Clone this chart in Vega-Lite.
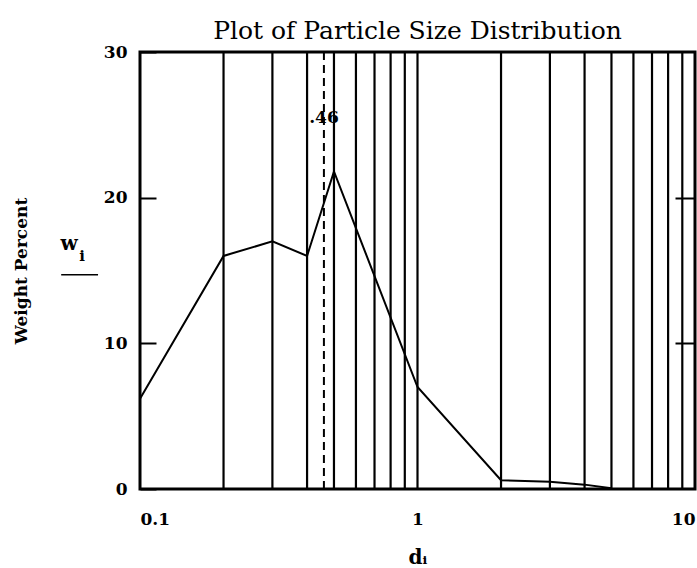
{
  "$schema": "https://vega.github.io/schema/vega-lite/v6.json",
  "width": 555,
  "height": 437,
  "autosize": {"type": "none"},
  "padding": {"left": 140, "top": 52, "right": 2, "bottom": 79},
  "background": "white",
  "config": {
    "view": {"stroke": "black", "strokeWidth": 3},
    "font": "DejaVu Serif",
    "axis": {"labelColor": "black", "titleColor": "black", "tickColor": "black", "domain": false, "grid": false}
  },
  "title": {"text": "Plot of Particle Size Distribution", "font": "DejaVu Serif", "fontSize": 25, "fontWeight": "normal", "color": "black", "anchor": "middle", "frame": "group", "offset": -1},
  "datasets": {
    "grid": [
      {"d": 0.2}, {"d": 0.3}, {"d": 0.4}, {"d": 0.5}, {"d": 0.6}, {"d": 0.7}, {"d": 0.8}, {"d": 0.9},
      {"d": 1}, {"d": 2}, {"d": 3}, {"d": 4}, {"d": 5}, {"d": 6}, {"d": 7}, {"d": 8}, {"d": 9}
    ],
    "marker": [{"d": 0.46, "label": ".46"}],
    "series": [
      {"d": 0.1, "w": 6.2},
      {"d": 0.2, "w": 16.0},
      {"d": 0.3, "w": 17.0},
      {"d": 0.4, "w": 16.0},
      {"d": 0.5, "w": 21.8},
      {"d": 1, "w": 7.0},
      {"d": 2, "w": 0.6},
      {"d": 3, "w": 0.5},
      {"d": 4, "w": 0.3},
      {"d": 5, "w": 0.05}
    ]
  },
  "resolve": {"axis": {"x": "independent", "y": "independent"}},
  "layer": [
    {
      "data": {"name": "grid"},
      "mark": {"type": "rule", "color": "black", "strokeWidth": 2.2},
      "encoding": {
        "x": {
          "field": "d", "type": "quantitative",
          "scale": {"type": "log", "domain": [0.1, 10], "nice": false},
          "axis": {
            "values": [0.1, 1, 10], "format": "~g", "ticks": false, "labelFlush": true,
            "labelFont": "DejaVu Serif", "labelFontWeight": "bold", "labelFontSize": 17, "labelPadding": 22,
            "title": "dᵢ", "titleFont": "DejaVu Serif", "titleFontWeight": "bold", "titleFontSize": 20, "titlePadding": 20
          }
        }
      }
    },
    {
      "data": {"name": "marker"},
      "mark": {"type": "rule", "color": "black", "strokeWidth": 2, "strokeDash": [8, 5]},
      "encoding": {
        "x": {"field": "d", "type": "quantitative", "axis": null}
      }
    },
    {
      "data": {"name": "marker"},
      "mark": {"type": "text", "color": "black", "font": "DejaVu Serif", "fontSize": 17, "fontWeight": 600, "align": "center", "baseline": "middle"},
      "encoding": {
        "x": {"field": "d", "type": "quantitative", "axis": null},
        "y": {"datum": 25.5, "type": "quantitative", "scale": {"domain": [0, 30], "nice": false},
          "axis": {"orient": "right", "values": [10, 20], "labels": false, "ticks": true, "tickSize": -20, "tickWidth": 2, "title": null}},
        "text": {"field": "label"}
      }
    },
    {
      "data": {"name": "series"},
      "mark": {"type": "line", "color": "black", "strokeWidth": 2},
      "encoding": {
        "x": {"field": "d", "type": "quantitative", "axis": null},
        "y": {
          "field": "w", "type": "quantitative",
          "axis": {
            "orient": "left", "values": [0, 10, 20, 30], "ticks": true, "tickSize": -16, "tickWidth": 2,
            "labelFont": "DejaVu Serif", "labelFontWeight": "bold", "labelFontSize": 17, "labelPadding": 29,
            "title": "Weight Percent", "titleFont": "DejaVu Serif", "titleFontWeight": "bold", "titleFontSize": 17, "titlePadding": 73
          }
        }
      }
    },
    {
      "data": {"values": [{}]},
      "mark": {"type": "text", "text": "w", "color": "black", "font": "DejaVu Serif", "fontWeight": "bold", "fontSize": 20, "align": "center", "baseline": "middle", "clip": false},
      "encoding": {
        "x": {"datum": 0.0555, "type": "quantitative", "axis": null},
        "y": {"datum": 16.8, "type": "quantitative", "axis": null}
      }
    },
    {
      "data": {"values": [{}]},
      "mark": {"type": "text", "text": "i", "color": "black", "font": "DejaVu Serif", "fontWeight": "bold", "fontSize": 15, "align": "center", "baseline": "middle", "clip": false},
      "encoding": {
        "x": {"datum": 0.0618, "type": "quantitative", "axis": null},
        "y": {"datum": 16.0, "type": "quantitative", "axis": null}
      }
    },
    {
      "data": {"values": [{}]},
      "mark": {"type": "rule", "color": "black", "strokeWidth": 1.5, "clip": false},
      "encoding": {
        "x": {"datum": 0.052, "type": "quantitative", "axis": null},
        "x2": {"datum": 0.0706},
        "y": {"datum": 14.7, "type": "quantitative", "axis": null}
      }
    }
  ]
}
